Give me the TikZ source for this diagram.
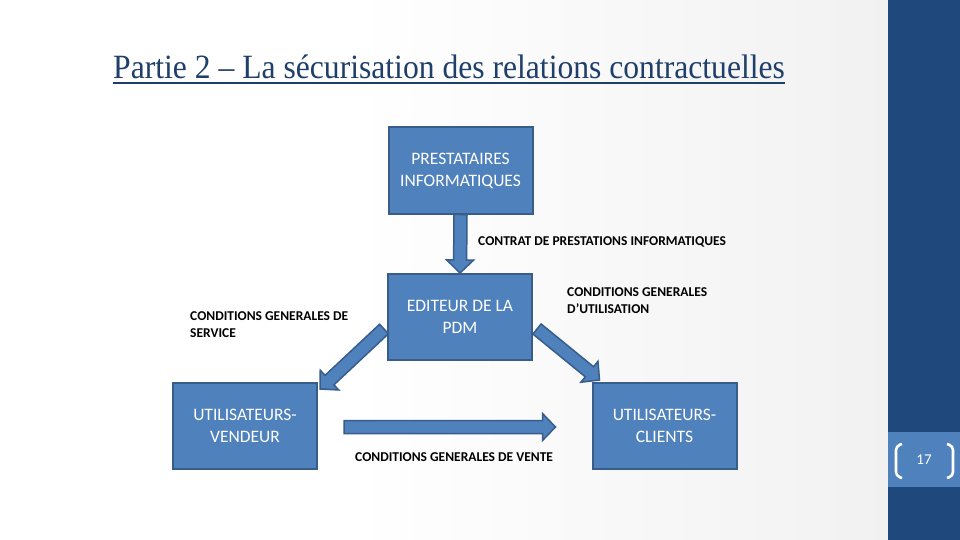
\documentclass[tikz,border=0pt]{standalone}
\usepackage{fontspec}
\setmainfont{Carlito}
\newfontfamily\titlefont{Liberation Serif}
\usetikzlibrary{calc}
\definecolor{boxfill}{HTML}{4F81BD}
\definecolor{boxline}{HTML}{385D8A}
\definecolor{band}{HTML}{1F497D}
\definecolor{titlec}{HTML}{1F3F6B}
\pgfdeclarehorizontalshading{slidebg}{100bp}{color(0bp)=(white); color(45bp)=(white); color(100bp)=(black!10)}
\newcommand\blockarrow[2]{%
  \coordinate (hb) at ($(#2)!13pt!(#1)$);
  \draw[barrow] ($(#1)!6.5pt!90:(#2)$) -- ($(hb)!6.5pt!-90:(#1)$)
    -- ($(hb)!13.5pt!-90:(#1)$) -- (#2) -- ($(hb)!13.5pt!90:(#1)$)
    -- ($(hb)!6.5pt!90:(#1)$) -- ($(#1)!6.5pt!-90:(#2)$) -- cycle;}
\begin{document}
\begin{tikzpicture}[x=1pt,y=-1pt,
  entity/.style={draw=boxline, line width=2pt, fill=boxfill, text=white,
    minimum width=144pt, minimum height=86pt, align=center,
    font=\fontsize{17.5}{22}\selectfont, inner sep=0pt},
  lab/.style={font=\bfseries\fontsize{13.5}{17}\selectfont, align=left,
    inner sep=0pt, anchor=base west},
  barrow/.style={draw=boxline, line width=1.5pt, fill=boxfill, line join=miter},
  bracket/.style={white, line width=2.6pt, rounded corners=4pt}]
\useasboundingbox (0,0) rectangle (960,540);
\shade[shading=slidebg] (0,0) rectangle (888,540);
\fill[band] (888,0) rectangle (960,540);
\fill[boxfill] (888,432) rectangle (960,487);
\node[text=white, font=\fontsize{15}{16}\selectfont, inner sep=0pt] (pg) at (924,460) {17};
\draw[bracket] (902,444) -- (896,446) -- (896,476) -- (902,478);
\draw[bracket] (947,444) -- (953,446) -- (953,476) -- (947,478);

\node[text=titlec, font=\titlefont\fontsize{34}{38}\selectfont, inner sep=0pt, anchor=base west]
  (title) at (113,79) {\scalebox{0.93}[1]{Partie 2 – La sécurisation des relations contractuelles}};
\draw[titlec, line width=1.6pt] ($(title.base west)+(0,4)$) -- ($(title.base east)+(0,4)$);

\node[entity] (P) at (460.5,170.5) {PRESTATAIRES\\INFORMATIQUES};
\node[entity] (E) at (460,317) {EDITEUR DE LA\\PDM};
\node[entity] (V) at (245,426) {UTILISATEURS-\\VENDEUR};
\node[entity] (C) at (664.5,426) {UTILISATEURS-\\CLIENTS};

\coordinate (a1s) at (P.south);
\coordinate (a1e) at (E.north);
\blockarrow{a1s}{a1e}
\coordinate (a2s) at ($(E.west)+(-3,12)$);
\coordinate (a2e) at ($(V.north east)+(2,7)$);
\blockarrow{a2s}{a2e}
\coordinate (a3s) at ($(E.east)+(4,12)$);
\coordinate (a3e) at ($(C.north west)+(8,-2)$);
\blockarrow{a3s}{a3e}
\coordinate (a4s) at ($(V.east)+(26,1)$);
\coordinate (a4e) at ($(C.west)+(-36,1)$);
\blockarrow{a4s}{a4e}

\node[lab] (l1) at (478,245) {CONTRAT DE PRESTATIONS INFORMATIQUES};
\node[lab] (l2) at (190,337) {CONDITIONS GENERALES DE\\SERVICE};
\node[lab] (l3) at (567,313) {CONDITIONS GENERALES\\D'UTILISATION};
\node[lab] (l4) at (355,461) {CONDITIONS GENERALES DE VENTE};
\end{tikzpicture}
\end{document}
